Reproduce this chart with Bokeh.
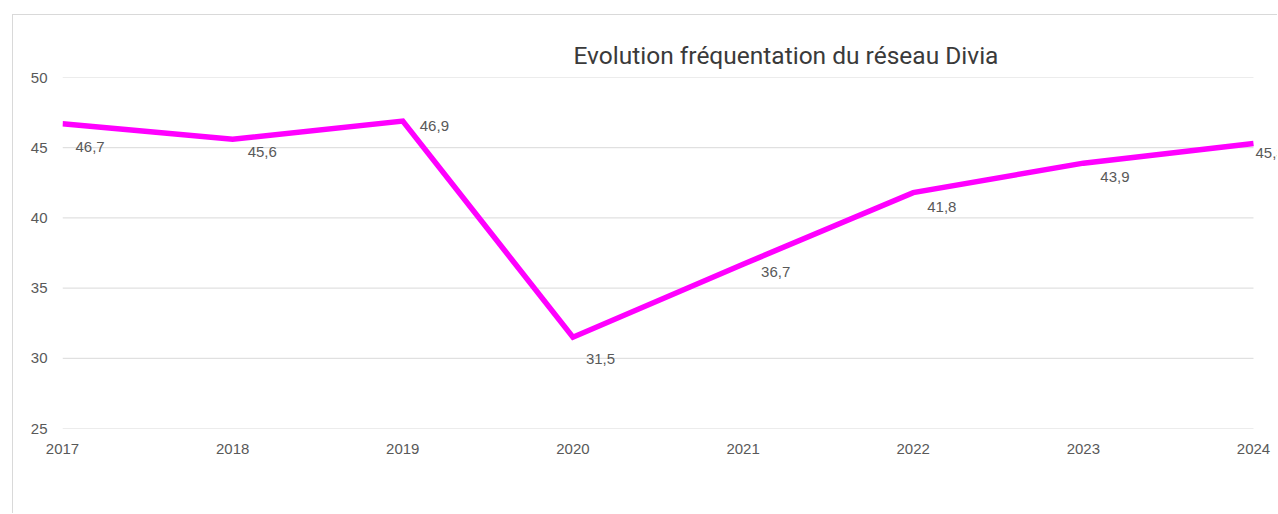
from bokeh.plotting import figure
from bokeh.models import ColumnDataSource, LabelSet, Range1d, FixedTicker, Title
from bokeh.core.properties import value
from bokeh.embed import file_html
from bokeh.resources import INLINE

years = [2017, 2018, 2019, 2020, 2021, 2022, 2023, 2024]
ridership = [46.7, 45.6, 46.9, 31.5, 36.7, 41.8, 43.9, 45.3]
labels = ["46,7", "45,6", "46,9", "31,5", "36,7", "41,8", "43,9", "45,3"]
y_ticks = [25, 30, 35, 40, 45, 50]
title_text = "Evolution fréquentation du réseau Divia"

# label offsets in screen pixels (styling only)
lab_dx = [13, 15, 17, 13, 18, 14, 17, 2]
lab_dy = [-23, -13, -5, -22, -8, -14, -14, -10]

src = ColumnDataSource(dict(x=years, y=ridership, t=labels, dx=lab_dx, dy=lab_dy))

px_per_year = (1253 - 62) / 7.0
frame_w = 1215
x_end = years[0] + frame_w / px_per_year

p = figure(frame_width=frame_w, frame_height=351, output_backend="svg", toolbar_location=None,
           x_range=Range1d(years[0], x_end), y_range=Range1d(y_ticks[0], y_ticks[-1]),
           min_border_left=49, min_border_right=0, min_border_top=62, min_border_bottom=85)
p.margin = (14, 0, 0, 12)
p.styles = {"border-top": "1px solid #d9d9d9", "border-left": "1px solid #d9d9d9"}
p.outline_line_color = None
p.background_fill_color = "white"
p.border_fill_color = "white"

t = Title(text=title_text, align="left", offset=511, text_font="Roboto",
          text_font_size="24.5px", text_font_style="normal", text_color="#3a3a3a", standoff=15)
p.add_layout(t, "above")

# horizontal gridlines spanning the category extent only
p.segment(x0=[years[0]] * len(y_ticks), x1=[years[-1]] * len(y_ticks), y0=y_ticks, y1=y_ticks,
          line_color="#d9d9d9", line_width=1)

p.line("x", "y", source=src, line_color="#FF00FF", line_width=5.5, line_join="miter")

ls = LabelSet(x="x", y="y", text="t", x_offset="dx", y_offset="dy", source=src,
              text_font=value("Liberation Sans"), text_font_size=value("15px"),
              text_color="#595959", text_baseline="middle", text_align="left")
p.add_layout(ls)

p.xgrid.visible = False
p.ygrid.visible = False

p.yaxis.ticker = FixedTicker(ticks=y_ticks)
p.xaxis.ticker = FixedTicker(ticks=years)
for ax in (p.xaxis[0], p.yaxis[0]):
    ax.axis_line_color = None
    ax.major_tick_line_color = None
    ax.minor_tick_line_color = None
    ax.major_tick_out = 0
    ax.major_tick_in = 0
    ax.major_label_text_font = "Liberation Sans"
    ax.major_label_text_font_size = "15px"
    ax.major_label_text_color = "#595959"
p.yaxis.major_label_standoff = 15
p.xaxis.major_label_standoff = 15

open("out.html", "w").write(file_html(p, INLINE))
